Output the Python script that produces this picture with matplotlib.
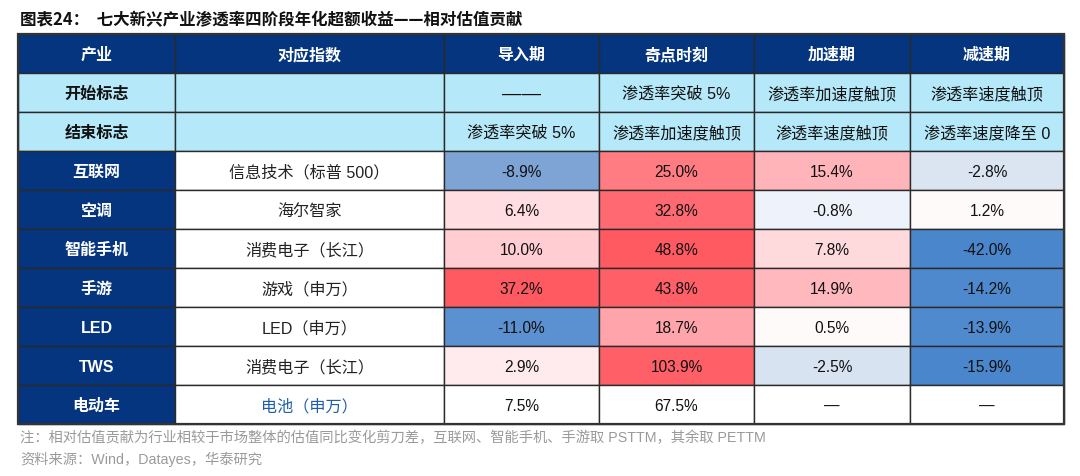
import matplotlib
matplotlib.use("Agg")
import matplotlib.pyplot as plt
from matplotlib.patches import Rectangle

plt.rcParams['font.family'] = ['Liberation Sans', 'Noto Sans CJK SC', 'DejaVu Sans']

# ---------------- data ----------------
title = "图表24：  七大新兴产业渗透率四阶段年化超额收益——相对估值贡献"
headers = ["产业", "对应指数", "导入期", "奇点时刻", "加速期", "减速期"]
start_marks = ["开始标志", "", "——", "渗透率突破 5%", "渗透率加速度触顶", "渗透率速度触顶"]
end_marks = ["结束标志", "", "渗透率突破 5%", "渗透率加速度触顶", "渗透率速度触顶", "渗透率速度降至 0"]
industries = ["互联网", "空调", "智能手机", "手游", "LED", "TWS", "电动车"]
indices = ["信息技术（标普 500）", "海尔智家", "消费电子（长江）", "游戏（申万）",
           "LED（申万）", "消费电子（长江）", "电池（申万）"]
intro = ["-8.9%", "6.4%", "10.0%", "37.2%", "-11.0%", "2.9%", "7.5%"]
singular = ["25.0%", "32.8%", "48.8%", "43.8%", "18.7%", "103.9%", "67.5%"]
accel = ["15.4%", "-0.8%", "7.8%", "14.9%", "0.5%", "-2.5%", "—"]
decel = ["-2.8%", "1.2%", "-42.0%", "-14.2%", "-13.9%", "-15.9%", "—"]
note1 = "注：相对估值贡献为行业相较于市场整体的估值同比变化剪刀差，互联网、智能手机、手游取 PSTTM，其余取 PETTM"
note2 = "资料来源：Wind，Datayes，华泰研究"

# ---------------- style ----------------
NAVY = "#05357f"
LIGHT = "#b5e8f8"
# fill colours of the value cells (heat-map shading, per row: 导入期, 奇点时刻, 加速期, 减速期)
cell_fill = [
    ["#7ea4d6", "#ff7c83", "#ffb4ba", "#dbe5f2"],
    ["#ffdde0", "#ff6a72", "#eef2fa", "#fffafa"],
    ["#ffcdd2", "#ff5a62", "#ffdadd", "#4a86cc"],
    ["#ff5a62", "#ff5f67", "#ffb8be", "#4e89ce"],
    ["#5b90d1", "#ffa4aa", "#fffafa", "#508ace"],
    ["#ffebed", "#ff6068", "#d8e3f1", "#4a86cc"],
    ["#ffffff", "#ffffff", "#ffffff", "#ffffff"],
]
col_edges = [18, 175, 444, 599, 754, 910, 1064]
row_top = 35
row_h = 39


def has_cjk(s):
    return any('\u4e00' <= ch <= '\u9fff' for ch in s)


fig = plt.figure(figsize=(10.8, 4.77), dpi=100)
ax = fig.add_axes([0, 0, 1, 1])
ax.set_xlim(0, 1080)
ax.set_ylim(477, 0)
ax.axis("off")

ax.text(20, 20, title, fontsize=11.9, fontweight="bold", color="#111111",
        family=['Noto Sans CJK SC'], va="center", ha="left")


def cell(r, c, text, fill, color="#111111", weight="normal", size=None):
    x0, x1 = col_edges[c], col_edges[c + 1]
    y0 = row_top + r * row_h
    ax.add_patch(Rectangle((x0, y0), x1 - x0, row_h, facecolor=fill,
                           edgecolor="#2a2a2a", linewidth=1.0))
    if text:
        if size is None:
            size = 11.6 if has_cjk(text) else 11.2
        if text == "——":
            size = 14
        ax.text((x0 + x1) / 2, y0 + row_h / 2 + 1, text, ha="center", va="center",
                fontsize=size, color=color, fontweight=weight)


for c, h in enumerate(headers):
    cell(0, c, h, NAVY, color="white", weight="bold", size=11.5)

for c, t in enumerate(start_marks):
    cell(1, c, t, LIGHT, weight="bold" if c == 0 else "normal")
for c, t in enumerate(end_marks):
    cell(2, c, t, LIGHT, weight="bold" if c == 0 else "normal")

for i in range(len(industries)):
    r = 3 + i
    cell(r, 0, industries[i], NAVY, color="white", weight="bold", size=11.5)
    cell(r, 1, indices[i], "white", color="#1f5fa8" if industries[i] == "电动车" else "#222222")
    vals = [intro[i], singular[i], accel[i], decel[i]]
    for j, v in enumerate(vals):
        cell(r, 2 + j, v, cell_fill[i][j])

# outer border
ax.add_patch(Rectangle((col_edges[0], row_top), col_edges[-1] - col_edges[0],
                       row_h * 10, facecolor="none", edgecolor="#333333", linewidth=1.6))

ax.text(20, 438, note1, fontsize=10.3, color="#9a9a9a", ha="left", va="center")
ax.text(20, 459, note2, fontsize=10.3, color="#9a9a9a", ha="left", va="center")

fig.savefig("out.png", dpi=100)
